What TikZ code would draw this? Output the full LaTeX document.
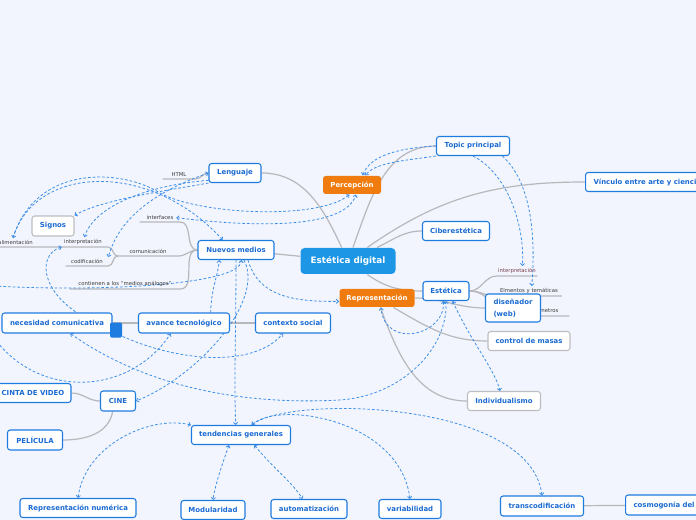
\documentclass[tikz,border=0pt]{standalone}
\usepackage{fontspec}
\setmainfont{DejaVu Sans}
\usetikzlibrary{arrows.meta}
\definecolor{bgc}{HTML}{F2F5FD}
\definecolor{boxblue}{HTML}{1E7BE0}
\definecolor{txtblue}{HTML}{1A6AD2}
\definecolor{mainblue}{HTML}{1E96E6}
\definecolor{orangec}{HTML}{F07B0F}
\definecolor{boxgray}{HTML}{BDBDC2}
\definecolor{branchgray}{HTML}{B8B8BC}
\definecolor{dashblue}{HTML}{3D8EE8}
\definecolor{lblgray}{HTML}{3C3C3C}
\definecolor{lblred}{HTML}{7B3F4F}
\pgfdeclarelayer{back}
\pgfdeclarelayer{links}
\pgfsetlayers{back,links,main}

\begin{document}
\begin{tikzpicture}[x=0.75pt,y=-0.75pt,
  box/.style={draw=boxblue,line width=0.8pt,fill=white,rounded corners=2pt,text=txtblue,
    font=\bfseries\fontsize{5.2}{6.2}\selectfont,minimum height=14.25pt,inner xsep=2pt},
  gbox/.style={box,draw=boxgray},
  obox/.style={box,draw=none,fill=orangec,text=white,minimum height=13.5pt},
  mainbox/.style={box,draw=none,fill=mainblue,text=white,
    font=\bfseries\fontsize{6.6}{8}\selectfont,minimum height=19.5pt,rounded corners=3pt},
  lbl/.style={font=\fontsize{4}{5}\selectfont,text=lblgray,inner xsep=0pt,inner ysep=1.5pt,anchor=south},
  branch/.style={draw=branchgray,line width=0.9pt},
  link/.style={draw=dashblue,line width=0.6pt,dash pattern=on 2pt off 1.5pt,
    -{Straight Barb[length=1.6pt,width=3.2pt]}},
  linkb/.style={link,{Straight Barb[length=1.6pt,width=3.2pt]}-{Straight Barb[length=1.6pt,width=3.2pt]}}]
\useasboundingbox (0,0) rectangle (696,520);
\begin{pgfonlayer}{back}
\fill[bgc] (0,0) rectangle (696,520);
\end{pgfonlayer}

\node[lbl,minimum width=24pt] (html) at (179,179) {HTML};
\node[lbl,minimum width=30pt] (interf) at (160,222) {interfaces};
\node[lbl,minimum width=45pt] (comu) at (148,256) {comunicación};
\node[lbl,minimum width=82.5pt] (cont) at (125,289) {contienen a los ``medios análogos''};
\node[lbl,minimum width=37.5pt] (interp1) at (83,247) {interpretación};
\node[lbl,minimum width=31.5pt] (codif) at (87,266) {codificación};
\node[lbl,anchor=south east] (retro) at (33,247) {retroalimentación};
\node[lbl,minimum width=30pt,text=lblred] (interp2) at (517,276) {interpretación};
\node[lbl,minimum width=48.75pt] (elem) at (529,296) {Elmentos y temáticas};
\node[lbl,minimum width=39pt] (param) at (543,316) {parámetros};
\coordinate (offa) at (-6,338);
\coordinate (offb) at (-6,286);

\node[mainbox,minimum width=71.25pt] (ed) at (348,261) {Estética digital};
\node[obox,minimum width=43.5pt] (perc) at (352,185) {Percepción};
\node[obox,minimum width=56.25pt] (repr) at (377,298) {Representación};
\node[box,minimum width=39pt] (leng) at (235,173) {Lenguaje};
\node[box,minimum width=54.75pt] (topic) at (473,146) {Topic principal};
\node[box,anchor=west,inner xsep=6pt] (vinc) at (585,182) {Vínculo entre arte y ciencia};
\node[box,minimum width=50.25pt] (cib) at (456,231) {Ciberestética};
\node[box,minimum width=57pt] (nm) at (236,250) {Nuevos medios};
\node[box,minimum width=34.5pt] (est) at (446,291) {Estética};
\node[box,minimum width=41.25pt,minimum height=21pt,align=left,
  font=\bfseries\fontsize{5.2}{9}\selectfont] (dis) at (513,308) {diseñador\\(web)};
\node[gbox,minimum width=61.5pt] (ctrl) at (529,341) {control de masas};
\node[gbox,minimum width=54.75pt] (indiv) at (504,401) {Individualismo};
\node[gbox,minimum width=31.5pt,minimum height=15pt] (sig) at (53,226) {Signos};
\node[box,minimum width=82.5pt,minimum height=15pt] (nec) at (57,323) {necesidad comunicativa};
\node[box,minimum width=68.25pt,minimum height=15pt] (avt) at (184,323) {avance tecnológico};
\node[box,minimum width=56.25pt,minimum height=15pt] (ctx) at (293,323) {contexto social};
\node[fill=boxblue,rounded corners=1pt,minimum width=9pt,minimum height=11.25pt,inner sep=0pt] (sq) at (116,330) {};
\node[box,minimum width=57pt] (cinta) at (33,393) {CINTA DE VIDEO};
\node[box,minimum width=26.25pt,minimum height=15pt] (cine) at (118,401) {CINE};
\node[box,minimum width=41.25pt,minimum height=15pt] (peli) at (35,440) {PELÍCULA};
\node[box,minimum width=74.25pt] (tend) at (241,435) {tendencias generales};
\node[box,minimum width=87pt] (repnum) at (78,508) {Representación numérica};
\node[box,minimum width=48pt] (modu) at (213,510) {Modularidad};
\node[box,minimum width=57pt] (auto) at (309,509) {automatización};
\node[box,minimum width=46.5pt] (vari) at (410,509) {variabilidad};
\node[box,minimum width=62.25pt,minimum height=15pt] (trans) at (542,506) {transcodificación};
\node[box,anchor=west,text width=70pt,inner xsep=6pt,minimum height=15pt] (cosmo) at (625,505) {cosmogonía del};

\begin{pgfonlayer}{links}
\draw[branch] (ed) to[out=115,in=0] (leng);
\draw[branch] (ed) to[out=70,in=180] (topic);
\draw[branch] (ed) to[out=35,in=180] (vinc);
\draw[branch] (ed) to[out=25,in=180] (cib);
\draw[branch] (ed) -- (nm);
\draw[branch] (ed) to[out=-35,in=180] (est);
\draw[branch] (repr) to[out=0,in=180] (dis);
\draw[branch] (repr) to[out=-30,in=180] (ctrl);
\draw[branch] (repr) to[out=-70,in=180] (indiv);
\draw[branch] (leng) to[out=180,in=0] (html.south east) -- (html.south west);
\draw[branch] (nm.west) to[out=180,in=0] (interf.south east) -- (interf.south west);
\draw[branch] (nm.west) to[out=180,in=0] (comu.south east) -- (comu.south west);
\draw[branch] (nm.west) to[out=180,in=0] (cont.south east) -- (cont.south west);
\draw[branch] (comu.south west) to[out=180,in=0] (interp1.south east) -- (interp1.south west) -- (retro.south west);
\draw[branch] (comu.south west) to[out=180,in=0] (codif.south east) -- (codif.south west);
\draw[branch] (est.east) to[out=0,in=180] (interp2.south west) -- (interp2.south east);
\draw[branch] (est.east) to[out=0,in=180] (elem.south west) -- (elem.south east);
\draw[branch] (est.east) to[out=0,in=180] (param.south west) -- (param.south east);
\draw[branch] (nec) -- (avt) -- (ctx);
\draw[branch] (cinta.east) to[out=0,in=180] (cine.west);
\draw[branch] ([xshift=-4pt]cine.south) to[out=-100,in=0] (peli.east);
\draw[branch] (trans) -- (cosmo);

\draw[link] (topic.west) .. controls (400,148) and (370,155) .. ([xshift=8pt]perc.north);
\draw[link] (topic.south west) .. controls (410,160) and (375,162) .. ([xshift=10pt]perc.north);
\draw[link] (topic.south) .. controls (510,175) and (525,230) .. ([xshift=4pt]interp2.north);
\draw[link] ([xshift=22pt]topic.south) .. controls (535,185) and (535,250) .. ([xshift=2pt]elem.north);
\draw[link] (leng.south west) .. controls (170,190) and (100,200) .. (sig.north east);
\draw[link] ([yshift=2pt]leng.south west) .. controls (150,185) and (95,205) .. ([xshift=1pt]interp1.north);
\draw[linkb] (leng.west) .. controls (160,190) and (120,215) .. (codif.north east);
\draw[linkb] ([xshift=-3pt]interf.east) .. controls (260,228) and (345,228) .. ([xshift=3pt]perc.south);
\draw[linkb] ([xshift=-15pt]retro.north east) .. controls (35,165) and (150,160) .. ([xshift=-10pt]nm.north);
\draw[link] ([xshift=-15pt]retro.north east) .. controls (35,165) and (120,168) .. (160,193)
  .. controls (200,215) and (320,220) .. ([xshift=-2pt]perc.south);
\draw[linkb] ([xshift=3pt]interp1.south west) .. controls (35,255) and (40,300) .. (100,325)
  .. controls (160,360) and (250,372) .. ([xshift=-7.5pt]ctx.south);
\draw[link] (offa) .. controls (40,400) and (130,395) .. ([xshift=-10pt]avt.south);
\draw[link] ([xshift=20pt]avt.north) .. controls (211,290) and (218,275) .. ([xshift=-12.5pt]nm.south);
\draw[link] ([xshift=6pt]nm.south) .. controls (265,300) and (200,375) .. (cine.east);
\draw[link] (nm.south) .. controls (236,330) and (234,380) .. ([xshift=-4pt]tend.north);
\draw[link] ([xshift=9pt]nm.south) .. controls (258,295) and (290,302) .. ([yshift=-2.5pt]repr.west);
\draw[link] (offb) .. controls (100,292) and (240,285) .. ([xshift=4pt]nm.south);
\draw[linkb] ([xshift=10pt]nec.south) .. controls (150,390) and (250,405) .. (340,400)
  .. controls (400,396) and (448,350) .. (est.south);
\draw[linkb] ([xshift=-2pt]est.south) .. controls (446,335) and (385,350) .. ([xshift=3pt]repr.south);
\draw[linkb] ([xshift=5pt]est.south) .. controls (470,340) and (495,370) .. ([xshift=-3pt]indiv.north);
\draw[linkb] (tend.north west) .. controls (150,415) and (85,445) .. (repnum.north);
\draw[linkb] ([xshift=-9pt]tend.south) .. controls (222,465) and (215,485) .. (modu.north);
\draw[linkb] ([xshift=10pt]tend.south) .. controls (270,465) and (295,485) .. ([xshift=-5pt]auto.north);
\draw[linkb] (vari.north) .. controls (400,420) and (280,400) .. ([xshift=8pt]tend.north);
\draw[linkb] (trans.north) .. controls (530,400) and (290,395) .. ([xshift=8pt]tend.north);
\end{pgfonlayer}
\end{tikzpicture}
\end{document}
